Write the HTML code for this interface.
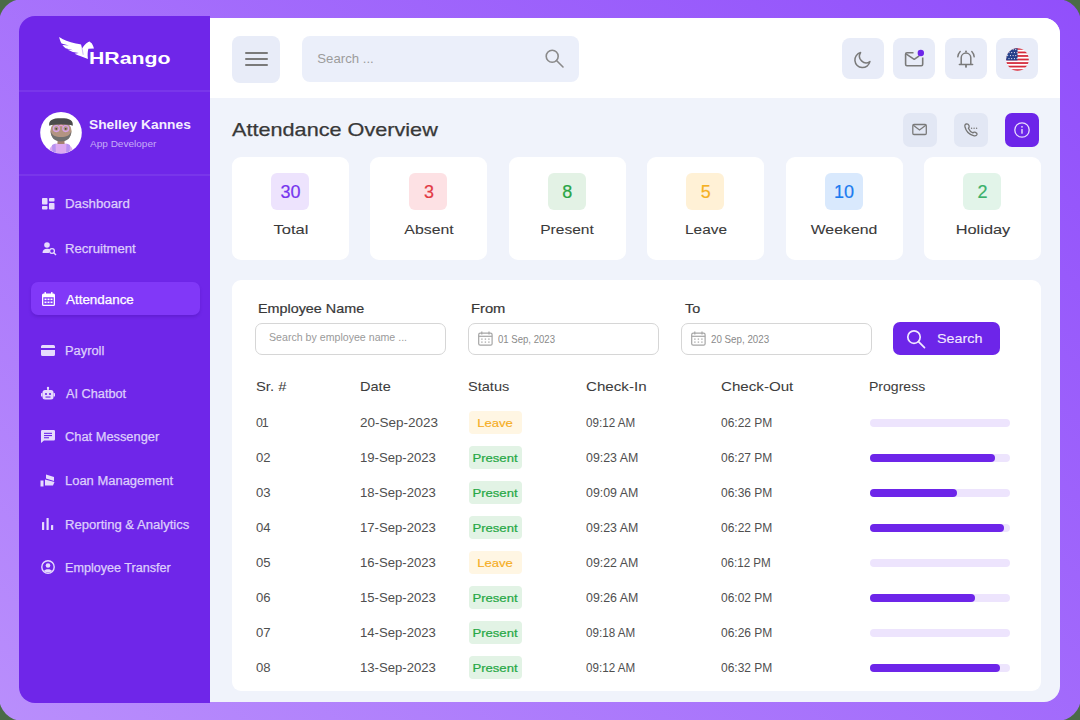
<!DOCTYPE html>
<html><head><meta charset="utf-8">
<style>
*{margin:0;padding:0;box-sizing:border-box}
html,body{width:1080px;height:720px;overflow:hidden;background:#4b6b47;font-family:"Liberation Sans",sans-serif}
.abs{position:absolute}
.t{position:absolute;white-space:nowrap;line-height:1}
svg{position:absolute;overflow:visible}
</style></head><body>
<div class="abs" style="left:-1.2px;top:-1.2px;width:1082.4px;height:722.4px;border-radius:24px;background:linear-gradient(41deg,#b98efc 0%,#914ffb 100%)"></div>
<div class="abs" style="left:210px;top:18.3px;width:850px;height:683.4px;border-radius:0 16px 16px 0;overflow:hidden;background:#f0f3fb">
  <div class="abs" style="left:0;top:0;width:850px;height:80.2px;background:#fff"></div>
</div>
<div class="abs" style="left:19px;top:16.3px;width:191px;height:686.8px;border-radius:16px 0 0 16px;background:#6f26e9"></div>

<svg style="left:55px;top:33px" width="45" height="30" viewBox="0 0 45 30"><path fill="#fff" d="M4.2,4.0 C8,6.8 14,9.2 20.8,10.4 C23,10.8 25,11 26,11.5 L27.4,15.3 C28.2,13.5 30,11 33.3,9 L34.6,8.4 L35.6,9.4 L36.7,10.2 C37.6,11.8 38.6,13.6 39,15.6 L33.4,15.7 C32.8,17.5 32.3,21.5 32.9,25.9 C29,24.5 24,22.5 19.6,20.7 L23.8,20.1 L17.8,18.9 C15.5,18 13.5,17.2 12.2,16.5 L18.2,17.2 L10.6,15.3 C9.5,14.2 8.2,13 7.4,11.9 L13.9,12.6 L6.6,10.6 C5.3,8.5 4.6,6.2 4.2,4.0 Z"/><path d="M26.6,12.5 L28.2,21.8" stroke="#6d25e9" stroke-width="0.6" opacity="0.55"/></svg>
<div class="t" style="left:89.3px;top:50.3px;font-size:16.50px;color:#fff;font-weight:bold;transform:scaleX(1.29);transform-origin:0 0;">HRango</div>
<div class="abs" style="left:19px;top:90px;width:191px;height:2px;background:rgba(255,255,255,0.075);border-radius:0px;"></div>
<div class="abs" style="left:19px;top:173.5px;width:191px;height:2px;background:rgba(255,255,255,0.075);border-radius:0px;"></div>
<svg style="left:40px;top:112px" width="42" height="42" viewBox="0 0 42 42">
<defs><clipPath id="avc"><circle cx="21" cy="20.7" r="20.6"/></clipPath></defs>
<circle cx="21" cy="20.7" r="20.8" fill="#fff"/>
<g clip-path="url(#avc)">
<path d="M8.5,42 C9,34.5 13,31 21,31 C29,31 33,34.5 33.5,42 Z" fill="#dcaaf0"/>
<path d="M12,33 L15.5,31.5 L16,42 L12.5,42 Z M30,33 L26.5,31.5 L26,42 L29.5,42 Z" fill="#b792f0"/>
<rect x="17.5" y="26" width="7" height="6" fill="#a5816f"/>
<ellipse cx="21" cy="19" rx="10.6" ry="10.3" fill="#b39482"/>
<path d="M10.6,19 C10.8,26 15,29.5 21,29.5 C27,29.5 31.2,26 31.4,19 C30,23.5 26.5,25 21,25 C15.5,25 12,23.5 10.6,19 Z" fill="#707070"/>
<path d="M9.2,13.8 C8.6,8 12,6.2 21,6.2 C30,6.2 33.4,8 32.8,13.8 C30,12.8 26,12.6 21,12.6 C16,12.6 12,12.8 9.2,13.8 Z" fill="#4b4b4b"/>
<circle cx="16.3" cy="16.6" r="2.9" fill="none" stroke="#d6a3ea" stroke-width="1.3"/>
<circle cx="25.7" cy="16.6" r="2.9" fill="none" stroke="#d6a3ea" stroke-width="1.3"/>
<circle cx="16.3" cy="16.8" r="0.9" fill="#444"/><circle cx="25.7" cy="16.8" r="0.9" fill="#444"/>
<path d="M19,14.5 C20,13 22,13 23,14.5" stroke="#f0a0c8" stroke-width="1.2" fill="none"/>
</g></svg>
<div class="t" style="left:88.8px;top:117.5px;font-size:13.60px;color:#f4eeff;font-weight:bold;transform:scaleX(1.013);transform-origin:0 0;">Shelley Kannes</div>
<div class="t" style="left:89.7px;top:138.5px;font-size:9.70px;color:#c6acf7;transform:scaleX(1.035);transform-origin:0 0;">App Developer</div>
<div class="abs" style="left:31px;top:282px;width:169px;height:33px;background:#8138f8;border-radius:7px;box-shadow:0 2px 3px rgba(60,10,150,0.25);"></div>
<div class="t" style="left:65.4px;top:198.4px;font-size:12.00px;color:#ddcefc;transform:scaleX(1.105);transform-origin:0 0;-webkit-text-stroke:0.25px #ddcefc;">Dashboard</div>
<div class="t" style="left:65.4px;top:243.1px;font-size:12.00px;color:#ddcefc;transform:scaleX(1.094);transform-origin:0 0;-webkit-text-stroke:0.25px #ddcefc;">Recruitment</div>
<div class="t" style="left:65.9px;top:293.6px;font-size:12.00px;color:#ffffff;transform:scaleX(1.117);transform-origin:0 0;-webkit-text-stroke:0.25px #ffffff;">Attendance</div>
<div class="t" style="left:65.4px;top:345.2px;font-size:12.00px;color:#ddcefc;transform:scaleX(1.07);transform-origin:0 0;-webkit-text-stroke:0.25px #ddcefc;">Payroll</div>
<div class="t" style="left:65.9px;top:388.3px;font-size:12.00px;color:#ddcefc;transform:scaleX(1.06);transform-origin:0 0;-webkit-text-stroke:0.25px #ddcefc;">AI Chatbot</div>
<div class="t" style="left:65.4px;top:430.5px;font-size:12.00px;color:#ddcefc;transform:scaleX(1.07);transform-origin:0 0;-webkit-text-stroke:0.25px #ddcefc;">Chat Messenger</div>
<div class="t" style="left:65.4px;top:475.1px;font-size:12.00px;color:#ddcefc;transform:scaleX(1.08);transform-origin:0 0;-webkit-text-stroke:0.25px #ddcefc;">Loan Management</div>
<div class="t" style="left:65.4px;top:518.5px;font-size:12.00px;color:#ddcefc;transform:scaleX(1.09);transform-origin:0 0;-webkit-text-stroke:0.25px #ddcefc;">Reporting &amp; Analytics</div>
<div class="t" style="left:65.4px;top:561.5px;font-size:12.00px;color:#ddcefc;transform:scaleX(1.05);transform-origin:0 0;-webkit-text-stroke:0.25px #ddcefc;">Employee Transfer</div>
<svg style="left:42px;top:198px" width="13" height="12" viewBox="0 0 13 12" fill="#e6dbfd">
<rect x="0" y="0" width="5.5" height="6.5" rx="0.8"/><rect x="0" y="8" width="5.5" height="3.5" rx="0.8"/>
<rect x="7" y="0" width="5.5" height="3.5" rx="0.8"/><rect x="7" y="5" width="5.5" height="6.5" rx="0.8"/></svg>
<svg style="left:42px;top:242px" width="15" height="13" viewBox="0 0 15 13" fill="#e6dbfd">
<circle cx="5" cy="3" r="2.8"/><path d="M0.5,11 C0.5,8 2.5,6.8 5,6.8 C6.5,6.8 7.5,7.2 8,7.6 C7,8.5 6.8,10 7,11 Z"/>
<circle cx="10" cy="9" r="2.4" fill="none" stroke="#e6dbfd" stroke-width="1.3"/><path d="M11.7,10.7 L14,13" stroke="#e6dbfd" stroke-width="1.4"/></svg>
<svg style="left:42px;top:292px" width="13" height="14" viewBox="0 0 13 14" fill="#fff">
<rect x="2.5" y="0" width="1.5" height="3" rx="0.5"/><rect x="9" y="0" width="1.5" height="3" rx="0.5"/>
<path d="M1.5,1.5 H11.5 A1.5,1.5 0 0 1 13,3 V12.5 A1.5,1.5 0 0 1 11.5,14 H1.5 A1.5,1.5 0 0 1 0,12.5 V3 A1.5,1.5 0 0 1 1.5,1.5 Z M1.3,5.2 V12.7 H11.7 V5.2 Z"/>
<rect x="2.5" y="6.5" width="2" height="1.6"/><rect x="5.5" y="6.5" width="2" height="1.6"/><rect x="8.5" y="6.5" width="2" height="1.6"/>
<rect x="2.5" y="9.5" width="2" height="1.6"/><rect x="5.5" y="9.5" width="2" height="1.6"/><rect x="8.5" y="9.5" width="2" height="1.6"/></svg>
<svg style="left:41px;top:345px" width="14" height="11" viewBox="0 0 14 11" fill="#e6dbfd">
<path d="M1.5,0 H12.5 A1.5,1.5 0 0 1 14,1.5 V9.5 A1.5,1.5 0 0 1 12.5,11 H1.5 A1.5,1.5 0 0 1 0,9.5 V1.5 A1.5,1.5 0 0 1 1.5,0 Z M0,3 V5 H14 V3 Z"/></svg>
<svg style="left:41px;top:387px" width="14" height="13" viewBox="0 0 14 13" fill="#e6dbfd">
<rect x="6.2" y="0" width="1.6" height="3"/><circle cx="7" cy="1" r="1.2"/>
<rect x="1.5" y="3" width="11" height="9.5" rx="2.5"/><rect x="0" y="6" width="1.5" height="3.5" rx="0.6"/><rect x="12.5" y="6" width="1.5" height="3.5" rx="0.6"/>
<circle cx="5" cy="7" r="1.1" fill="#6d25e9"/><circle cx="9" cy="7" r="1.1" fill="#6d25e9"/><rect x="4.5" y="9.5" width="5" height="1.1" fill="#6d25e9"/></svg>
<svg style="left:41px;top:430px" width="14" height="13" viewBox="0 0 14 13" fill="#e6dbfd">
<path d="M1.2,0 H12.8 A1.2,1.2 0 0 1 14,1.2 V9.3 A1.2,1.2 0 0 1 12.8,10.5 H3 L0,13 V1.2 A1.2,1.2 0 0 1 1.2,0 Z"/>
<rect x="3" y="2.8" width="8" height="1.1" fill="#6d25e9"/><rect x="3" y="5" width="8" height="1.1" fill="#6d25e9"/><rect x="3" y="7.2" width="5" height="1.1" fill="#6d25e9"/></svg>
<svg style="left:40px;top:474px" width="16" height="13" viewBox="0 0 16 13" fill="#e6dbfd">
<path d="M6,0.5 L14,3 V7 L6,4.5 Z"/><path d="M5,5.5 L14.5,8 L13,11.5 L5,11.5 Z"/><rect x="0.5" y="6.5" width="3" height="6"/></svg>
<svg style="left:42px;top:518px" width="12" height="12" viewBox="0 0 12 12" fill="#e6dbfd">
<rect x="0" y="4" width="2.2" height="8" rx="0.5"/><rect x="4.5" y="0" width="2.2" height="12" rx="0.5"/><rect x="9" y="7" width="2.2" height="5" rx="0.5"/></svg>
<svg style="left:41px;top:560px" width="14" height="14" viewBox="0 0 14 14">
<circle cx="7" cy="7" r="6.2" fill="none" stroke="#e6dbfd" stroke-width="1.4"/>
<circle cx="7" cy="5.5" r="2.3" fill="#e6dbfd"/><path d="M3,11 C4,8.8 10,8.8 11,11 C9.5,12.6 4.5,12.6 3,11 Z" fill="#e6dbfd"/></svg>
<div class="abs" style="left:232px;top:36px;width:48px;height:47px;background:#e8ecf8;border-radius:8px;"></div>
<div class="abs" style="left:244.6px;top:51.8px;width:23px;height:2px;background:#7a7a7a;border-radius:1px;"></div>
<div class="abs" style="left:244.6px;top:58.1px;width:23px;height:2px;background:#7a7a7a;border-radius:1px;"></div>
<div class="abs" style="left:244.6px;top:64.4px;width:23px;height:2px;background:#7a7a7a;border-radius:1px;"></div>
<div class="abs" style="left:302px;top:36px;width:277px;height:46px;background:#ebeffa;border-radius:8px;"></div>
<div class="t" style="left:317.3px;top:52.2px;font-size:13.20px;color:#9c9c9c;">Search ...</div>
<svg style="left:540px;top:44px" width="30" height="30" viewBox="0 0 30 30"><circle cx="12.2" cy="12.2" r="6" fill="none" stroke="#8a8a8a" stroke-width="1.6"/><path d="M16.5,16.5 L23,23" stroke="#8a8a8a" stroke-width="1.6" stroke-linecap="round"/></svg>
<div class="abs" style="left:841.6px;top:38.4px;width:42px;height:41px;background:#e8ecf8;border-radius:8px;"></div>
<div class="abs" style="left:893.2px;top:38.4px;width:42px;height:41px;background:#e8ecf8;border-radius:8px;"></div>
<div class="abs" style="left:944.8px;top:38.4px;width:42px;height:41px;background:#e8ecf8;border-radius:8px;"></div>
<div class="abs" style="left:996.4px;top:38.4px;width:42px;height:41px;background:#e8ecf8;border-radius:8px;"></div>
<svg style="left:850px;top:47px" width="26" height="26" viewBox="0 0 26 26"><path d="M10.6,5.6 A7.6,7.6 0 1 0 19.9,14.6 A6.6,6.6 0 0 1 10.6,5.6 Z" fill="none" stroke="#7a7a7a" stroke-width="1.5" stroke-linejoin="round"/></svg>
<svg style="left:900px;top:46px" width="30" height="26" viewBox="0 0 30 26"><path d="M13.5,6.8 H7 A1.4,1.4 0 0 0 5.6,8.2 V18.3 A1.4,1.4 0 0 0 7,19.7 H21.3 A1.4,1.4 0 0 0 22.7,18.3 V11.5" fill="none" stroke="#7a7a7a" stroke-width="1.6"/><path d="M6,7.8 L14.2,13.3 L19.2,9.8" fill="none" stroke="#7a7a7a" stroke-width="1.6" stroke-linejoin="round"/><circle cx="20.8" cy="7" r="3.2" fill="#6d25e9"/></svg>
<svg style="left:952px;top:46px" width="28" height="26" viewBox="0 0 28 26"><path d="M9.2,18 V11.8 A4.8,4.8 0 0 1 18.8,11.8 V18" fill="none" stroke="#7a7a7a" stroke-width="1.5"/><path d="M7.4,18.6 H20.6" stroke="#7a7a7a" stroke-width="1.5" stroke-linecap="round"/><circle cx="14" cy="5.6" r="1" fill="#7a7a7a"/><rect x="13.1" y="19" width="1.8" height="2.6" fill="#7a7a7a"/><path d="M5.8,10.8 A9,9 0 0 1 8.2,5.6 M22.2,10.8 A9,9 0 0 0 19.8,5.6" fill="none" stroke="#7a7a7a" stroke-width="1.4" stroke-linecap="round"/></svg>
<svg style="left:1006px;top:47.5px" width="23" height="23" viewBox="0 0 23 23"><defs><clipPath id="fc"><circle cx="11.5" cy="11.5" r="11.3"/></clipPath></defs><g clip-path="url(#fc)"><rect width="23" height="23" fill="#fff"/><rect x="0" y="0.00" width="23" height="1.77" fill="#d42b3c"/><rect x="0" y="3.54" width="23" height="1.77" fill="#d42b3c"/><rect x="0" y="7.08" width="23" height="1.77" fill="#d42b3c"/><rect x="0" y="10.62" width="23" height="1.77" fill="#d42b3c"/><rect x="0" y="14.15" width="23" height="1.77" fill="#d42b3c"/><rect x="0" y="17.69" width="23" height="1.77" fill="#d42b3c"/><rect x="0" y="21.23" width="23" height="1.77" fill="#d42b3c"/><rect x="0" y="0" width="11.5" height="12.4" fill="#243f8a"/><circle cx="1.7" cy="1.6" r="0.55" fill="#fff"/><circle cx="4.4" cy="1.6" r="0.55" fill="#fff"/><circle cx="7.1" cy="1.6" r="0.55" fill="#fff"/><circle cx="9.8" cy="1.6" r="0.55" fill="#fff"/><circle cx="3.0" cy="4.6" r="0.55" fill="#fff"/><circle cx="5.7" cy="4.6" r="0.55" fill="#fff"/><circle cx="8.4" cy="4.6" r="0.55" fill="#fff"/><circle cx="11.1" cy="4.6" r="0.55" fill="#fff"/><circle cx="1.7" cy="7.6" r="0.55" fill="#fff"/><circle cx="4.4" cy="7.6" r="0.55" fill="#fff"/><circle cx="7.1" cy="7.6" r="0.55" fill="#fff"/><circle cx="9.8" cy="7.6" r="0.55" fill="#fff"/><circle cx="3.0" cy="10.6" r="0.55" fill="#fff"/><circle cx="5.7" cy="10.6" r="0.55" fill="#fff"/><circle cx="8.4" cy="10.6" r="0.55" fill="#fff"/><circle cx="11.1" cy="10.6" r="0.55" fill="#fff"/></g></svg>
<div class="t" style="left:231.5px;top:121.6px;font-size:17.90px;color:#383838;transform:scaleX(1.21);transform-origin:0 0;-webkit-text-stroke:0.25px #383838;">Attendance Overview</div>
<div class="abs" style="left:903px;top:113px;width:34px;height:34px;background:#e2e7f4;border-radius:7px;"></div>
<div class="abs" style="left:954px;top:113px;width:34px;height:34px;background:#e2e7f4;border-radius:7px;"></div>
<div class="abs" style="left:1005px;top:113px;width:34px;height:34px;background:#6d25e9;border-radius:7px;"></div>
<svg style="left:910px;top:120px" width="20" height="20" viewBox="0 0 20 20"><rect x="2.8" y="4.5" width="13.5" height="10" rx="1.2" fill="none" stroke="#7a7a7a" stroke-width="1.3"/><path d="M3.3,5.2 L9.5,10 L15.8,5.2" fill="none" stroke="#7a7a7a" stroke-width="1.3"/></svg>
<svg style="left:961px;top:120px" width="20" height="20" viewBox="0 0 20 20"><path d="M5.2,4 C4,4.3 3.6,5.5 4,7 C5,11 8.5,14.5 12.5,15.6 C14,16 15.6,15.5 16,14.5 C16.3,13.6 15.5,12.8 14.5,12.3 C13.5,11.9 12.5,12 12,12.8 C10,12 8.2,10.2 7.4,8.2 C8.2,7.6 8.4,6.6 8,5.6 C7.5,4.5 6.4,3.7 5.2,4 Z" fill="none" stroke="#757575" stroke-width="1.3" stroke-linejoin="round"/><circle cx="10.6" cy="8.3" r="0.7" fill="#757575"/><circle cx="13.1" cy="8.3" r="0.7" fill="#757575"/><circle cx="15.6" cy="8.3" r="0.7" fill="#757575"/></svg>
<svg style="left:1012px;top:120px" width="20" height="20" viewBox="0 0 20 20"><circle cx="10" cy="10" r="7.2" fill="none" stroke="#e9defd" stroke-width="1.3"/><rect x="9.3" y="9" width="1.4" height="4.8" rx="0.6" fill="#e9defd"/><circle cx="10" cy="6.8" r="0.9" fill="#e9defd"/></svg>
<div class="abs" style="left:232.0px;top:157px;width:117px;height:103px;background:#fff;border-radius:9px;"></div>
<div class="abs" style="left:271.0px;top:173px;width:38px;height:37px;background:#ede3fd;border-radius:6px;"></div>
<div class="t" style="left:190.5px;top:182.8px;width:200px;text-align:center;font-size:18.00px;color:#7635ee;-webkit-text-stroke:0.2px #7635ee;">30</div>
<div class="t" style="left:190.5px;top:222.6px;width:200px;text-align:center;font-size:13.30px;color:#3a3a3a;transform:scaleX(1.24);-webkit-text-stroke:0.08px #3a3a3a;">Total</div>
<div class="abs" style="left:370.4px;top:157px;width:117px;height:103px;background:#fff;border-radius:9px;"></div>
<div class="abs" style="left:409.4px;top:173px;width:38px;height:37px;background:#fde1e4;border-radius:6px;"></div>
<div class="t" style="left:328.9px;top:182.8px;width:200px;text-align:center;font-size:18.00px;color:#e23a44;-webkit-text-stroke:0.2px #e23a44;">3</div>
<div class="t" style="left:328.9px;top:222.6px;width:200px;text-align:center;font-size:13.30px;color:#3a3a3a;transform:scaleX(1.19);-webkit-text-stroke:0.08px #3a3a3a;">Absent</div>
<div class="abs" style="left:508.8px;top:157px;width:117px;height:103px;background:#fff;border-radius:9px;"></div>
<div class="abs" style="left:547.8px;top:173px;width:38px;height:37px;background:#e3f2e5;border-radius:6px;"></div>
<div class="t" style="left:467.3px;top:182.8px;width:200px;text-align:center;font-size:18.00px;color:#2aa545;-webkit-text-stroke:0.2px #2aa545;">8</div>
<div class="t" style="left:467.3px;top:222.6px;width:200px;text-align:center;font-size:13.30px;color:#3a3a3a;transform:scaleX(1.17);-webkit-text-stroke:0.08px #3a3a3a;">Present</div>
<div class="abs" style="left:647.2px;top:157px;width:117px;height:103px;background:#fff;border-radius:9px;"></div>
<div class="abs" style="left:686.2px;top:173px;width:38px;height:37px;background:#fff1d6;border-radius:6px;"></div>
<div class="t" style="left:605.7px;top:182.8px;width:200px;text-align:center;font-size:18.00px;color:#f5b023;-webkit-text-stroke:0.2px #f5b023;">5</div>
<div class="t" style="left:605.7px;top:222.6px;width:200px;text-align:center;font-size:13.30px;color:#3a3a3a;transform:scaleX(1.16);-webkit-text-stroke:0.08px #3a3a3a;">Leave</div>
<div class="abs" style="left:785.6px;top:157px;width:117px;height:103px;background:#fff;border-radius:9px;"></div>
<div class="abs" style="left:824.6px;top:173px;width:38px;height:37px;background:#d9e9fd;border-radius:6px;"></div>
<div class="t" style="left:744.1px;top:182.8px;width:200px;text-align:center;font-size:18.00px;color:#1a7bf0;-webkit-text-stroke:0.2px #1a7bf0;">10</div>
<div class="t" style="left:744.1px;top:222.6px;width:200px;text-align:center;font-size:13.30px;color:#3a3a3a;transform:scaleX(1.19);-webkit-text-stroke:0.08px #3a3a3a;">Weekend</div>
<div class="abs" style="left:924.0px;top:157px;width:117px;height:103px;background:#fff;border-radius:9px;"></div>
<div class="abs" style="left:963.0px;top:173px;width:38px;height:37px;background:#e2f4e9;border-radius:6px;"></div>
<div class="t" style="left:882.5px;top:182.8px;width:200px;text-align:center;font-size:18.00px;color:#3bb06a;-webkit-text-stroke:0.2px #3bb06a;">2</div>
<div class="t" style="left:882.5px;top:222.6px;width:200px;text-align:center;font-size:13.30px;color:#3a3a3a;transform:scaleX(1.23);-webkit-text-stroke:0.08px #3a3a3a;">Holiday</div>
<div class="abs" style="left:232px;top:280px;width:809px;height:411px;background:#fff;border-radius:9px;"></div>
<div class="t" style="left:258.3px;top:302.7px;font-size:12.60px;color:#383838;transform:scaleX(1.14);transform-origin:0 0;-webkit-text-stroke:0.2px #383838;">Employee Name</div>
<div class="t" style="left:470.7px;top:302.7px;font-size:12.60px;color:#383838;transform:scaleX(1.17);transform-origin:0 0;-webkit-text-stroke:0.2px #383838;">From</div>
<div class="t" style="left:684.7px;top:302.7px;font-size:12.60px;color:#383838;transform:scaleX(1.14);transform-origin:0 0;-webkit-text-stroke:0.2px #383838;">To</div>
<div class="abs" style="left:254.5px;top:322.5px;width:191px;height:32.5px;background:#fff;border-radius:7px;border:1.3px solid #d6d6d6;"></div>
<div class="abs" style="left:467.5px;top:322.5px;width:191px;height:32.5px;background:#fff;border-radius:7px;border:1.3px solid #d6d6d6;"></div>
<div class="abs" style="left:680.5px;top:322.5px;width:191px;height:32.5px;background:#fff;border-radius:7px;border:1.3px solid #d6d6d6;"></div>
<div class="t" style="left:268.8px;top:333.4px;font-size:10.20px;color:#9a9a9a;transform:scaleX(1.042);transform-origin:0 0;">Search by employee name ...</div>
<svg style="left:478px;top:331px" width="15" height="15" viewBox="0 0 15 15"><rect x="0.7" y="2.2" width="13.4" height="12" rx="1.5" fill="none" stroke="#a5a5a5" stroke-width="1.2"/><path d="M0.7,5.3 H14.1" stroke="#a5a5a5" stroke-width="1.2"/><path d="M3.8,0.5 V3.5 M11,0.5 V3.5" stroke="#a5a5a5" stroke-width="1.2"/><g fill="#a5a5a5"><rect x="3.2" y="7.5" width="1.4" height="1.2"/><rect x="6.7" y="7.5" width="1.4" height="1.2"/><rect x="10.2" y="7.5" width="1.4" height="1.2"/><rect x="3.2" y="10.5" width="1.4" height="1.2"/><rect x="6.7" y="10.5" width="1.4" height="1.2"/><rect x="10.2" y="10.5" width="1.4" height="1.2"/></g></svg>
<svg style="left:691px;top:331px" width="15" height="15" viewBox="0 0 15 15"><rect x="0.7" y="2.2" width="13.4" height="12" rx="1.5" fill="none" stroke="#a5a5a5" stroke-width="1.2"/><path d="M0.7,5.3 H14.1" stroke="#a5a5a5" stroke-width="1.2"/><path d="M3.8,0.5 V3.5 M11,0.5 V3.5" stroke="#a5a5a5" stroke-width="1.2"/><g fill="#a5a5a5"><rect x="3.2" y="7.5" width="1.4" height="1.2"/><rect x="6.7" y="7.5" width="1.4" height="1.2"/><rect x="10.2" y="7.5" width="1.4" height="1.2"/><rect x="3.2" y="10.5" width="1.4" height="1.2"/><rect x="6.7" y="10.5" width="1.4" height="1.2"/><rect x="10.2" y="10.5" width="1.4" height="1.2"/></g></svg>
<div class="t" style="left:497.6px;top:334.5px;font-size:10.20px;color:#8a8a8a;transform:scaleX(0.94);transform-origin:0 0;">01 Sep, 2023</div>
<div class="t" style="left:710.6px;top:334.5px;font-size:10.20px;color:#8a8a8a;transform:scaleX(0.96);transform-origin:0 0;">20 Sep, 2023</div>
<div class="abs" style="left:893px;top:322px;width:107px;height:33px;background:#6d25e9;border-radius:7px;"></div>
<svg style="left:900px;top:324.5px" width="30" height="30" viewBox="0 0 30 30"><circle cx="14" cy="12.1" r="6.2" fill="none" stroke="#f1e9ff" stroke-width="1.7"/><path d="M18.5,16.6 L24.5,22.6" stroke="#f1e9ff" stroke-width="1.7" stroke-linecap="round"/></svg>
<div class="t" style="left:936.6px;top:331.8px;font-size:13.20px;color:#f1e9ff;transform:scaleX(1.09);transform-origin:0 0;-webkit-text-stroke:0.1px #f1e9ff;">Search</div>
<div class="t" style="left:256.1px;top:380.4px;font-size:13.00px;color:#3d3d3d;transform:scaleX(1.137);transform-origin:0 0;-webkit-text-stroke:0.05px #3d3d3d;">Sr. #</div>
<div class="t" style="left:360.2px;top:380.4px;font-size:13.00px;color:#3d3d3d;transform:scaleX(1.12);transform-origin:0 0;-webkit-text-stroke:0.05px #3d3d3d;">Date</div>
<div class="t" style="left:467.9px;top:380.4px;font-size:13.00px;color:#3d3d3d;transform:scaleX(1.12);transform-origin:0 0;-webkit-text-stroke:0.05px #3d3d3d;">Status</div>
<div class="t" style="left:586.1px;top:380.4px;font-size:13.00px;color:#3d3d3d;transform:scaleX(1.165);transform-origin:0 0;-webkit-text-stroke:0.05px #3d3d3d;">Check-In</div>
<div class="t" style="left:721.3px;top:380.4px;font-size:13.00px;color:#3d3d3d;transform:scaleX(1.164);transform-origin:0 0;-webkit-text-stroke:0.05px #3d3d3d;">Check-Out</div>
<div class="t" style="left:869.4px;top:380.4px;font-size:13.00px;color:#3d3d3d;transform:scaleX(1.08);transform-origin:0 0;-webkit-text-stroke:0.05px #3d3d3d;">Progress</div>
<div class="t" style="left:256.1px;top:416.5px;font-size:12.50px;color:#4f4f4f;"><span style="letter-spacing:-1.3px">0</span>1</div>
<div class="t" style="left:360.2px;top:416.5px;font-size:12.50px;color:#4f4f4f;transform:scaleX(1.08);transform-origin:0 0;">20-Sep-2023</div>
<div class="abs" style="left:468.5px;top:411.0px;width:53px;height:23px;background:#fff6e3;border-radius:4px;"></div>
<div class="t" style="left:395.0px;top:418.3px;width:200px;text-align:center;font-size:11.40px;color:#f5ad1e;transform:scaleX(1.15);-webkit-text-stroke:0.15px #f5ad1e;">Leave</div>
<div class="t" style="left:586.1px;top:416.5px;font-size:12.50px;color:#4f4f4f;transform:scaleX(0.93);transform-origin:0 0;">09:12 AM</div>
<div class="t" style="left:721.4px;top:416.5px;font-size:12.50px;color:#4f4f4f;transform:scaleX(0.96);transform-origin:0 0;">06:22 PM</div>
<div class="abs" style="left:870px;top:419.0px;width:140px;height:8px;background:#ede4fd;border-radius:4px;"></div>
<div class="t" style="left:256.1px;top:451.5px;font-size:12.50px;color:#4f4f4f;transform:scaleX(1.05);transform-origin:0 0;">02</div>
<div class="t" style="left:360.2px;top:451.5px;font-size:12.50px;color:#4f4f4f;transform:scaleX(1.05);transform-origin:0 0;">19-Sep-2023</div>
<div class="abs" style="left:468.5px;top:446.0px;width:53px;height:23px;background:#e2f3e5;border-radius:4px;"></div>
<div class="t" style="left:395.0px;top:453.3px;width:200px;text-align:center;font-size:11.40px;color:#27a845;transform:scaleX(1.15);-webkit-text-stroke:0.22px #27a845;">Present</div>
<div class="t" style="left:586.1px;top:451.5px;font-size:12.50px;color:#4f4f4f;transform:scaleX(0.99);transform-origin:0 0;">09:23 AM</div>
<div class="t" style="left:721.4px;top:451.5px;font-size:12.50px;color:#4f4f4f;transform:scaleX(0.96);transform-origin:0 0;">06:27 PM</div>
<div class="abs" style="left:870px;top:454.0px;width:140px;height:8px;background:#ede4fd;border-radius:4px;"></div>
<div class="abs" style="left:870px;top:454.0px;width:124.6px;height:8px;background:#6d25e9;border-radius:4px;"></div>
<div class="t" style="left:256.1px;top:486.6px;font-size:12.50px;color:#4f4f4f;transform:scaleX(1.05);transform-origin:0 0;">03</div>
<div class="t" style="left:360.2px;top:486.6px;font-size:12.50px;color:#4f4f4f;transform:scaleX(1.05);transform-origin:0 0;">18-Sep-2023</div>
<div class="abs" style="left:468.5px;top:481.0px;width:53px;height:23px;background:#e2f3e5;border-radius:4px;"></div>
<div class="t" style="left:395.0px;top:488.3px;width:200px;text-align:center;font-size:11.40px;color:#27a845;transform:scaleX(1.15);-webkit-text-stroke:0.22px #27a845;">Present</div>
<div class="t" style="left:586.1px;top:486.6px;font-size:12.50px;color:#4f4f4f;transform:scaleX(0.99);transform-origin:0 0;">09:09 AM</div>
<div class="t" style="left:721.4px;top:486.6px;font-size:12.50px;color:#4f4f4f;transform:scaleX(0.96);transform-origin:0 0;">06:36 PM</div>
<div class="abs" style="left:870px;top:489.0px;width:140px;height:8px;background:#ede4fd;border-radius:4px;"></div>
<div class="abs" style="left:870px;top:489.0px;width:86.8px;height:8px;background:#6d25e9;border-radius:4px;"></div>
<div class="t" style="left:256.1px;top:521.7px;font-size:12.50px;color:#4f4f4f;transform:scaleX(1.05);transform-origin:0 0;">04</div>
<div class="t" style="left:360.2px;top:521.7px;font-size:12.50px;color:#4f4f4f;transform:scaleX(1.05);transform-origin:0 0;">17-Sep-2023</div>
<div class="abs" style="left:468.5px;top:516.0px;width:53px;height:23px;background:#e2f3e5;border-radius:4px;"></div>
<div class="t" style="left:395.0px;top:523.3px;width:200px;text-align:center;font-size:11.40px;color:#27a845;transform:scaleX(1.15);-webkit-text-stroke:0.22px #27a845;">Present</div>
<div class="t" style="left:586.1px;top:521.7px;font-size:12.50px;color:#4f4f4f;transform:scaleX(0.99);transform-origin:0 0;">09:23 AM</div>
<div class="t" style="left:721.4px;top:521.7px;font-size:12.50px;color:#4f4f4f;transform:scaleX(0.96);transform-origin:0 0;">06:22 PM</div>
<div class="abs" style="left:870px;top:524.0px;width:140px;height:8px;background:#ede4fd;border-radius:4px;"></div>
<div class="abs" style="left:870px;top:524.0px;width:134.4px;height:8px;background:#6d25e9;border-radius:4px;"></div>
<div class="t" style="left:256.1px;top:556.8px;font-size:12.50px;color:#4f4f4f;transform:scaleX(1.05);transform-origin:0 0;">05</div>
<div class="t" style="left:360.2px;top:556.8px;font-size:12.50px;color:#4f4f4f;transform:scaleX(1.05);transform-origin:0 0;">16-Sep-2023</div>
<div class="abs" style="left:468.5px;top:551.0px;width:53px;height:23px;background:#fff6e3;border-radius:4px;"></div>
<div class="t" style="left:395.0px;top:558.3px;width:200px;text-align:center;font-size:11.40px;color:#f5ad1e;transform:scaleX(1.15);-webkit-text-stroke:0.15px #f5ad1e;">Leave</div>
<div class="t" style="left:586.1px;top:556.8px;font-size:12.50px;color:#4f4f4f;transform:scaleX(0.99);transform-origin:0 0;">09:22 AM</div>
<div class="t" style="left:721.4px;top:556.8px;font-size:12.50px;color:#4f4f4f;transform:scaleX(0.93);transform-origin:0 0;">06:12 PM</div>
<div class="abs" style="left:870px;top:559.0px;width:140px;height:8px;background:#ede4fd;border-radius:4px;"></div>
<div class="t" style="left:256.1px;top:591.8px;font-size:12.50px;color:#4f4f4f;transform:scaleX(1.05);transform-origin:0 0;">06</div>
<div class="t" style="left:360.2px;top:591.8px;font-size:12.50px;color:#4f4f4f;transform:scaleX(1.05);transform-origin:0 0;">15-Sep-2023</div>
<div class="abs" style="left:468.5px;top:586.0px;width:53px;height:23px;background:#e2f3e5;border-radius:4px;"></div>
<div class="t" style="left:395.0px;top:593.3px;width:200px;text-align:center;font-size:11.40px;color:#27a845;transform:scaleX(1.15);-webkit-text-stroke:0.22px #27a845;">Present</div>
<div class="t" style="left:586.1px;top:591.8px;font-size:12.50px;color:#4f4f4f;transform:scaleX(0.99);transform-origin:0 0;">09:26 AM</div>
<div class="t" style="left:721.4px;top:591.8px;font-size:12.50px;color:#4f4f4f;transform:scaleX(0.96);transform-origin:0 0;">06:02 PM</div>
<div class="abs" style="left:870px;top:594.0px;width:140px;height:8px;background:#ede4fd;border-radius:4px;"></div>
<div class="abs" style="left:870px;top:594.0px;width:105.0px;height:8px;background:#6d25e9;border-radius:4px;"></div>
<div class="t" style="left:256.1px;top:626.9px;font-size:12.50px;color:#4f4f4f;transform:scaleX(1.05);transform-origin:0 0;">07</div>
<div class="t" style="left:360.2px;top:626.9px;font-size:12.50px;color:#4f4f4f;transform:scaleX(1.05);transform-origin:0 0;">14-Sep-2023</div>
<div class="abs" style="left:468.5px;top:621.0px;width:53px;height:23px;background:#e2f3e5;border-radius:4px;"></div>
<div class="t" style="left:395.0px;top:628.3px;width:200px;text-align:center;font-size:11.40px;color:#27a845;transform:scaleX(1.15);-webkit-text-stroke:0.22px #27a845;">Present</div>
<div class="t" style="left:586.1px;top:626.9px;font-size:12.50px;color:#4f4f4f;transform:scaleX(0.93);transform-origin:0 0;">09:18 AM</div>
<div class="t" style="left:721.4px;top:626.9px;font-size:12.50px;color:#4f4f4f;transform:scaleX(0.96);transform-origin:0 0;">06:26 PM</div>
<div class="abs" style="left:870px;top:629.0px;width:140px;height:8px;background:#ede4fd;border-radius:4px;"></div>
<div class="t" style="left:256.1px;top:662.0px;font-size:12.50px;color:#4f4f4f;transform:scaleX(1.05);transform-origin:0 0;">08</div>
<div class="t" style="left:360.2px;top:662.0px;font-size:12.50px;color:#4f4f4f;transform:scaleX(1.05);transform-origin:0 0;">13-Sep-2023</div>
<div class="abs" style="left:468.5px;top:656.0px;width:53px;height:23px;background:#e2f3e5;border-radius:4px;"></div>
<div class="t" style="left:395.0px;top:663.3px;width:200px;text-align:center;font-size:11.40px;color:#27a845;transform:scaleX(1.15);-webkit-text-stroke:0.22px #27a845;">Present</div>
<div class="t" style="left:586.1px;top:662.0px;font-size:12.50px;color:#4f4f4f;transform:scaleX(0.93);transform-origin:0 0;">09:12 AM</div>
<div class="t" style="left:721.4px;top:662.0px;font-size:12.50px;color:#4f4f4f;transform:scaleX(0.96);transform-origin:0 0;">06:32 PM</div>
<div class="abs" style="left:870px;top:664.0px;width:140px;height:8px;background:#ede4fd;border-radius:4px;"></div>
<div class="abs" style="left:870px;top:664.0px;width:130.2px;height:8px;background:#6d25e9;border-radius:4px;"></div>
</body></html>
